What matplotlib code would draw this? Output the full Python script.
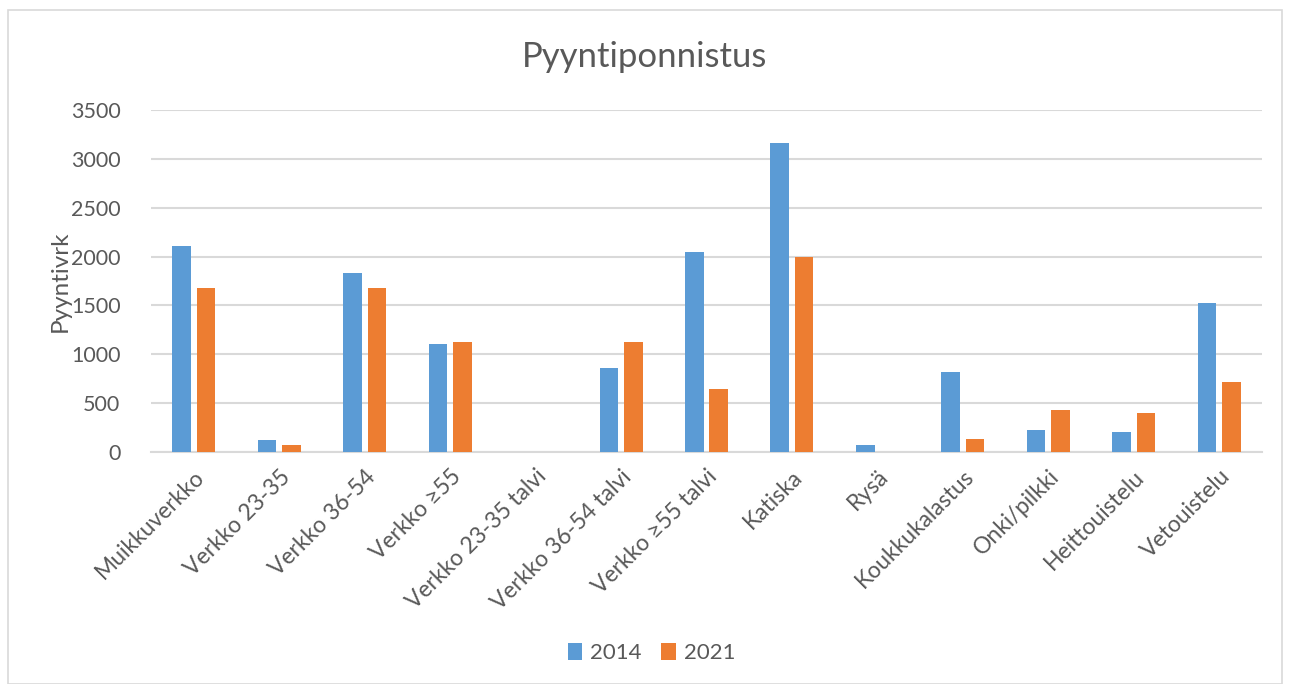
import numpy as np
import matplotlib
matplotlib.use("Agg")
import matplotlib.pyplot as plt
from matplotlib.patches import Rectangle

plt.rcParams['font.family'] = ['Lato', 'DejaVu Sans']

categories = ["Muikkuverkko", "Verkko 23-35", "Verkko 36-54", "Verkko \u226555",
              "Verkko 23-35 talvi", "Verkko 36-54 talvi", "Verkko \u226555 talvi",
              "Katiska", "Rys\u00e4", "Koukkukalastus", "Onki/pilkki",
              "Heittouistelu", "Vetouistelu"]
v2014 = [2112, 127, 1829, 1102, 0, 857, 2047, 3166, 72, 816, 225, 205, 1529]
v2021 = [1682, 76, 1682, 1130, 0, 1127, 645, 1993, 0, 130, 427, 403, 720]
yticks = [0, 500, 1000, 1500, 2000, 2500, 3000, 3500]

BLUE, ORANGE = "#5B9BD5", "#ED7D31"
GRID, TXT = "#D9D9D9", "#595959"

fig = plt.figure(figsize=(12.9, 6.84), dpi=100)
fig.patches.append(Rectangle((8/1290, 0), 1274/1290, 674/684, transform=fig.transFigure,
                             fill=False, edgecolor=GRID, lw=1.2))
ax = fig.add_axes([151/1290, 232/684, 1111/1290, 342/684])

x = np.arange(len(categories))
w = 0.218
ax.bar(x - 0.143, v2014, w, color=BLUE, label="2014", zorder=3)
ax.bar(x + 0.143, v2021, w, color=ORANGE, label="2021", zorder=3)

ax.set_xlim(-0.5, len(categories) - 0.5)
ax.set_ylim(0, 3500)
ax.set_yticks(yticks)
ax.set_yticklabels([str(t) for t in yticks], fontsize=15.5, color=TXT)
ax.yaxis.grid(True, color=GRID, lw=1.5, zorder=0)
ax.tick_params(axis='both', length=0)
ax.tick_params(axis='y', pad=22)
ax.set_xticks(x)
ax.set_xticklabels(categories, rotation=45, ha='right', rotation_mode='anchor',
                   fontsize=16.5, color=TXT)
ax.tick_params(axis='x', pad=10)
for s in ['top', 'right', 'left']:
    ax.spines[s].set_visible(False)
ax.spines['bottom'].set_color(GRID)
ax.spines['bottom'].set_linewidth(1.5)

ax.set_ylabel("Pyyntivrk", fontsize=17.5, color=TXT, labelpad=0)
fig.text(0.5, 627/684, "Pyyntiponnistus", fontsize=25, color=TXT, ha='center', va='center')
fig.legend(loc='center', bbox_to_anchor=(0.505, 31/684), ncol=2, frameon=False,
           fontsize=16, labelcolor=TXT, handlelength=0.65, handleheight=0.8,
           handletextpad=0.35, columnspacing=0.9)

fig.savefig("out.png", dpi=100)
